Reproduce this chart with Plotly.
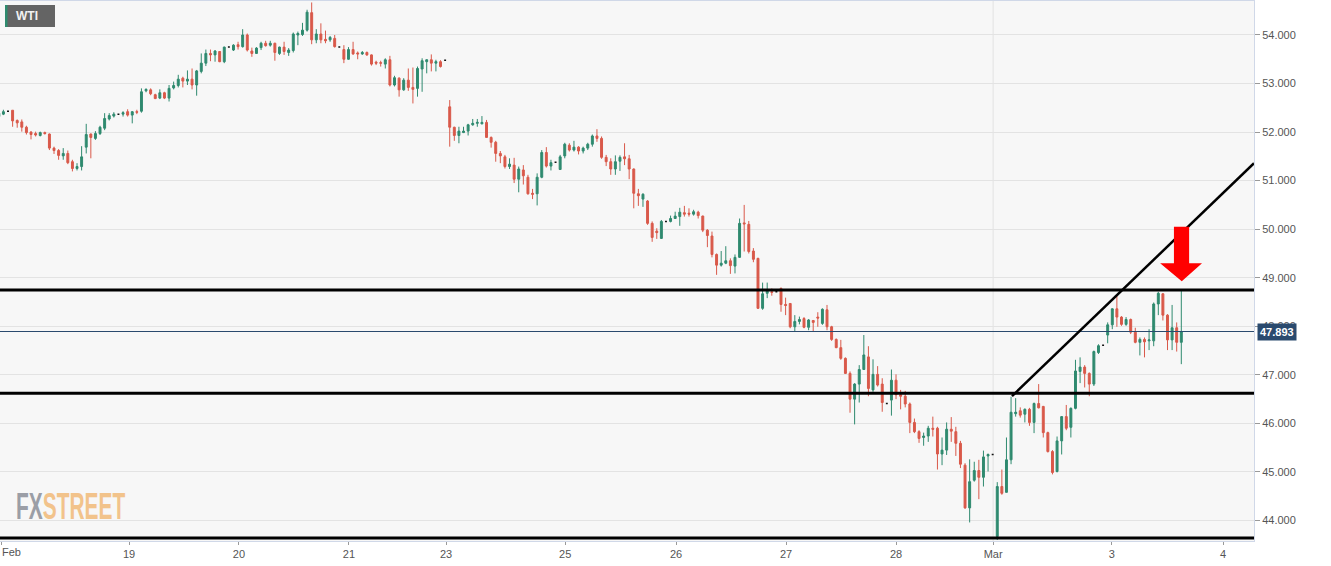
import plotly.graph_objects as go

# ---------------- data (hourly WTI candles) ----------------
open_ = [
    52.32, 52.37, 52.43, 52.45, 52.24, 52.21, 52.10, 52.00, 51.97, 51.93,
    51.99, 51.96, 51.67, 51.62, 51.51, 51.56, 51.39, 51.25, 51.29, 51.69,
    51.96, 51.87, 51.97, 52.08, 52.27, 52.33, 52.37, 52.37, 52.42, 52.35,
    52.42, 52.43, 52.85, 52.87, 52.77, 52.70, 52.81, 52.70, 52.91, 52.96,
    53.11, 53.05, 53.09, 52.97, 53.25, 53.42, 53.62, 53.59, 53.66, 53.45,
    53.75, 53.69, 53.80, 53.76, 54.00, 53.67, 53.62, 53.74, 53.83, 53.79,
    53.83, 53.62, 53.75, 53.64, 53.68, 54.00, 54.01, 54.10, 54.46, 53.90,
    54.02, 53.91, 53.90, 53.93, 53.75, 53.70, 53.50, 53.70, 53.63, 53.61,
    53.64, 53.59, 53.44, 53.43, 53.40, 53.49, 52.97, 53.11, 52.87, 53.07,
    52.92, 52.90, 53.30, 53.45, 53.49, 53.42, 53.45, 53.48,
    52.52, 52.10, 51.93, 51.99, 52.02, 52.15, 52.18, 52.17, 52.20, 51.89,
    51.79, 51.56, 51.49, 51.29, 51.32, 51.03, 51.22, 51.07, 50.74, 50.73,
    51.07, 51.58, 51.30, 51.38, 51.23, 51.51, 51.73, 51.63, 51.69, 51.61,
    51.67, 51.75, 51.92, 51.87, 51.48, 51.39, 51.24, 51.40, 51.49, 51.45,
    51.24, 50.73, 50.62, 50.58, 50.12, 49.96, 49.81, 50.16, 50.16, 50.22,
    50.26, 50.34, 50.33, 50.31, 50.35, 50.27, 49.98, 49.86, 49.48, 49.26,
    49.30, 49.35, 49.24, 49.42, 50.13, 50.10, 49.55, 49.40, 48.37, 48.68,
    48.71, 48.71, 48.78, 48.45, 48.47, 47.99, 48.10, 48.16, 47.98, 48.12,
    48.19, 48.06, 48.34, 47.99, 47.73, 47.56, 47.34, 47.03, 46.50, 46.81,
    47.11, 47.37, 46.69, 47.01, 46.81, 46.41, 46.48, 46.89, 46.59, 46.56,
    46.40, 46.02, 45.83, 45.71, 45.74, 45.90, 45.90, 45.37, 45.45, 45.88,
    45.83, 45.59, 45.14, 44.26, 44.83, 45.03, 44.89, 45.33, 45.36, 43.67,
    44.70, 44.58, 45.25, 46.20, 46.26, 46.19, 46.29, 46.02, 46.41, 46.35,
    45.81, 45.42, 45.01, 45.64, 46.14, 45.92, 46.31, 47.07, 47.16, 47.03,
    46.81, 47.46, 47.61, 47.82, 48.03, 48.36, 48.19, 48.04, 48.14, 47.88,
    47.67, 47.73, 47.70, 47.70, 48.46, 48.67, 48.23, 47.72, 47.97, 47.67,
]
high = [
    52.42, 52.46, 52.43, 52.45, 52.26, 52.26, 52.13, 52.02, 52.01, 52.01,
    52.01, 51.97, 51.70, 51.65, 51.67, 51.62, 51.43, 51.36, 51.71, 52.17,
    51.97, 52.02, 52.13, 52.39, 52.39, 52.41, 52.37, 52.43, 52.47, 52.43,
    52.46, 52.90, 52.90, 52.90, 52.79, 52.88, 52.83, 52.97, 53.04, 53.18,
    53.14, 53.27, 53.31, 53.28, 53.62, 53.70, 53.70, 53.69, 53.67, 53.76,
    53.75, 53.81, 53.86, 54.12, 54.03, 53.74, 53.75, 53.86, 53.88, 53.88,
    53.84, 53.76, 53.86, 53.73, 54.05, 54.07, 54.25, 54.52, 54.67, 54.12,
    54.24, 54.09, 53.98, 54.00, 53.75, 53.79, 53.75, 53.86, 53.66, 53.67,
    53.66, 53.60, 53.47, 53.47, 53.52, 53.57, 53.16, 53.13, 53.11, 53.31,
    53.33, 53.35, 53.52, 53.50, 53.60, 53.49, 53.48, 53.48,
    52.66, 52.11, 52.11, 52.11, 52.17, 52.27, 52.27, 52.33, 52.25, 51.91,
    51.82, 51.61, 51.53, 51.46, 51.47, 51.29, 51.32, 51.12, 50.83, 51.15,
    51.63, 51.69, 51.43, 51.38, 51.53, 51.78, 51.77, 51.82, 51.71, 51.70,
    51.78, 51.95, 52.06, 51.91, 51.53, 51.46, 51.52, 51.52, 51.77, 51.53,
    51.25, 50.83, 50.74, 50.60, 50.16, 50.02, 50.19, 50.16, 50.28, 50.36,
    50.44, 50.48, 50.43, 50.40, 50.38, 50.28, 50.00, 49.95, 49.50, 49.55,
    49.65, 49.40, 49.48, 50.22, 50.50, 50.17, 49.61, 49.41, 48.90, 48.90,
    48.78, 48.71, 48.80, 48.59, 48.47, 48.23, 48.20, 48.19, 48.15, 48.13,
    48.29, 48.37, 48.44, 48.01, 47.75, 47.72, 47.36, 47.07, 46.83, 47.20,
    47.82, 47.59, 47.32, 47.18, 46.93, 46.41, 47.11, 47.01, 46.69, 46.67,
    46.43, 46.10, 45.86, 45.81, 45.95, 46.14, 45.93, 45.71, 46.02, 46.13,
    45.93, 45.64, 45.18, 45.26, 45.21, 45.25, 45.44, 45.38, 45.36, 44.79,
    45.05, 45.71, 46.55, 46.52, 46.33, 46.31, 46.32, 46.43, 46.81, 46.36,
    45.83, 45.45, 45.73, 46.15, 46.38, 46.33, 47.31, 47.36, 47.20, 47.05,
    47.50, 47.63, 47.61, 48.08, 48.37, 48.65, 48.21, 48.19, 48.16, 47.97,
    47.77, 47.77, 47.94, 48.49, 48.71, 48.68, 48.25, 48.44, 48.08, 48.75,
]
low = [
    52.25, 52.35, 52.43, 52.11, 52.09, 52.01, 51.95, 51.85, 51.91, 51.91,
    51.95, 51.63, 51.55, 51.43, 51.43, 51.34, 51.19, 51.21, 51.21, 51.56,
    51.46, 51.84, 51.94, 52.04, 52.24, 52.30, 52.37, 52.32, 52.32, 52.18,
    52.37, 52.40, 52.82, 52.76, 52.68, 52.68, 52.68, 52.63, 52.88, 52.92,
    52.92, 52.97, 52.88, 52.75, 53.21, 53.36, 53.46, 53.45, 53.44, 53.42,
    53.75, 53.67, 53.70, 53.74, 53.66, 53.55, 53.61, 53.69, 53.76, 53.76,
    53.47, 53.59, 53.59, 53.57, 53.64, 53.79, 53.98, 54.07, 53.81, 53.83,
    53.83, 53.83, 53.86, 53.74, 53.75, 53.42, 53.49, 53.59, 53.50, 53.59,
    53.57, 53.37, 53.38, 53.35, 53.31, 52.94, 52.94, 52.73, 52.85, 52.85,
    52.59, 52.73, 52.83, 53.21, 53.25, 53.25, 53.33, 53.48,
    51.70, 51.82, 51.77, 51.98, 51.93, 52.13, 52.11, 52.16, 51.89, 51.68,
    51.39, 51.36, 51.25, 51.24, 50.95, 50.76, 50.92, 50.71, 50.62, 50.49,
    51.05, 51.27, 51.21, 51.38, 51.22, 51.46, 51.60, 51.60, 51.54, 51.56,
    51.63, 51.70, 51.80, 51.45, 51.30, 51.12, 51.12, 51.20, 51.32, 51.03,
    50.43, 50.48, 50.46, 50.09, 49.74, 49.80, 49.80, 50.16, 50.14, 50.21,
    50.07, 50.26, 50.26, 50.28, 50.22, 49.94, 49.63, 49.42, 49.06, 49.23,
    49.28, 49.08, 49.09, 49.41, 49.54, 49.50, 49.32, 48.36, 48.34, 48.58,
    48.63, 48.71, 48.30, 48.23, 47.96, 47.90, 48.04, 47.96, 47.92, 47.89,
    47.99, 48.03, 47.92, 47.70, 47.55, 47.31, 47.02, 46.22, 45.98, 46.43,
    47.10, 46.56, 46.65, 46.76, 46.24, 46.41, 46.16, 46.50, 46.29, 46.33,
    45.80, 45.80, 45.60, 45.54, 45.62, 45.73, 45.05, 45.14, 45.35, 45.62,
    45.33, 45.08, 44.24, 43.96, 44.80, 44.44, 44.70, 45.01, 45.36, 43.60,
    44.53, 44.58, 45.16, 46.14, 46.12, 46.02, 45.95, 45.80, 46.31, 45.71,
    45.40, 44.95, 44.99, 45.36, 45.86, 45.71, 46.29, 46.83, 46.74, 46.56,
    46.77, 47.43, 47.61, 47.65, 47.94, 47.99, 48.01, 48.01, 47.84, 47.65,
    47.40, 47.36, 47.51, 47.59, 48.23, 48.12, 47.51, 47.51, 47.48, 47.22,
]
close = [
    52.39, 52.42, 52.43, 52.23, 52.19, 52.10, 51.99, 51.95, 51.94, 51.99,
    51.97, 51.67, 51.62, 51.52, 51.56, 51.37, 51.25, 51.29, 51.49, 51.95,
    51.89, 51.97, 52.10, 52.28, 52.34, 52.37, 52.37, 52.40, 52.35, 52.42,
    52.41, 52.83, 52.88, 52.79, 52.69, 52.81, 52.70, 52.90, 52.96, 53.09,
    53.05, 53.09, 52.97, 53.26, 53.42, 53.62, 53.59, 53.67, 53.45, 53.75,
    53.75, 53.79, 53.76, 54.00, 53.69, 53.62, 53.73, 53.83, 53.78, 53.83,
    53.64, 53.75, 53.66, 53.69, 54.02, 54.03, 54.10, 54.47, 53.90, 54.02,
    53.90, 53.88, 53.95, 53.76, 53.75, 53.50, 53.70, 53.61, 53.61, 53.64,
    53.59, 53.40, 53.42, 53.42, 53.49, 52.97, 53.12, 52.87, 53.07, 52.92,
    52.88, 53.31, 53.47, 53.49, 53.42, 53.45, 53.35, 53.48,
    52.10, 51.93, 52.02, 52.02, 52.15, 52.18, 52.20, 52.20, 51.89, 51.79,
    51.56, 51.51, 51.29, 51.34, 51.03, 51.24, 51.10, 50.73, 50.72, 51.07,
    51.58, 51.30, 51.37, 51.38, 51.49, 51.75, 51.63, 51.69, 51.61, 51.67,
    51.75, 51.92, 51.87, 51.48, 51.39, 51.24, 51.39, 51.48, 51.45, 51.24,
    50.74, 50.69, 50.72, 50.12, 49.83, 49.93, 50.16, 50.16, 50.22, 50.27,
    50.35, 50.31, 50.31, 50.36, 50.28, 49.98, 49.87, 49.48, 49.26, 49.30,
    49.35, 49.25, 49.42, 50.12, 50.11, 49.54, 49.38, 48.37, 48.67, 48.75,
    48.70, 48.71, 48.45, 48.43, 47.99, 48.10, 48.14, 47.98, 48.13, 48.08,
    48.17, 48.35, 47.99, 47.73, 47.56, 47.34, 47.03, 46.50, 46.81, 47.11,
    47.41, 46.72, 47.01, 46.79, 46.43, 46.41, 46.89, 46.59, 46.56, 46.40,
    46.02, 45.83, 45.69, 45.74, 45.90, 45.88, 45.37, 45.45, 45.88, 45.84,
    45.59, 45.16, 44.26, 44.80, 45.03, 44.89, 45.31, 45.36, 45.36, 44.70,
    44.56, 45.25, 46.23, 46.23, 46.17, 46.29, 46.02, 46.41, 46.32, 45.81,
    45.42, 44.99, 45.64, 46.14, 45.90, 46.31, 47.08, 47.16, 47.03, 46.81,
    47.48, 47.60, 47.61, 48.03, 48.36, 48.19, 48.04, 48.14, 47.88, 47.67,
    47.73, 47.68, 47.72, 48.46, 48.68, 48.23, 47.72, 47.97, 47.67, 47.893,
]

# x-axis day labels and where they fall (in candle-index units)
day_labels = ["", "19", "20", "21", "23", "25", "26", "27", "28", "Mar", "3", "4"]
day_ticks = [0.48, 28.3, 52.2, 76.1, 97.2, 123.1, 147.2, 171.1, 195.0, 216.1, 241.9, 266.1]
first_label = "Feb"
month_break = 216.1

price_ticks = [44, 45, 46, 47, 48, 49, 50, 51, 52, 53, 54]
last_price = 47.893
resistance = 48.75
support = 46.62
floor_level = 43.64
trend_start = (220.2, 46.56)
trend_end = (272.8, 51.36)

x_range = [0.26, 272.8]
y_range = [43.578, 54.70]

GREEN = "#2f8a6f"
RED = "#d9594a"
NAVY = "#2a4a6e"
FONT = "Liberation Sans, Arial"

# ---------------- figure ----------------
idx = list(range(len(close)))
normal = [i for i in idx if high[i] != low[i]]
flat = [i for i in idx if high[i] == low[i]]

fig = go.Figure()
fig.add_trace(go.Candlestick(
    x=normal,
    open=[open_[i] for i in normal], high=[high[i] for i in normal],
    low=[low[i] for i in normal], close=[close[i] for i in normal],
    increasing=dict(line=dict(color=GREEN, width=1), fillcolor=GREEN),
    decreasing=dict(line=dict(color=RED, width=1), fillcolor=RED),
    whiskerwidth=0, showlegend=False, hoverinfo="skip",
))
fig.add_trace(go.Candlestick(
    x=flat,
    open=[open_[i] for i in flat], high=[high[i] for i in flat],
    low=[low[i] for i in flat], close=[close[i] for i in flat],
    increasing=dict(line=dict(color="#111111", width=1.5), fillcolor="#111111"),
    decreasing=dict(line=dict(color="#111111", width=1.5), fillcolor="#111111"),
    whiskerwidth=0, showlegend=False, hoverinfo="skip",
))

shapes = [
    dict(type="line", xref="x", yref="paper", x0=month_break, x1=month_break, y0=0, y1=1,
         line=dict(color="#e2e2e2", width=1), layer="below"),
    dict(type="line", xref="paper", yref="y", x0=0, x1=1, y0=last_price, y1=last_price,
         line=dict(color=NAVY, width=1)),
    dict(type="line", xref="paper", yref="y", x0=0, x1=1, y0=resistance, y1=resistance,
         line=dict(color="#000000", width=3)),
    dict(type="line", xref="paper", yref="y", x0=0, x1=1, y0=support, y1=support,
         line=dict(color="#000000", width=3)),
    dict(type="line", xref="paper", yref="y", x0=0, x1=1, y0=floor_level, y1=floor_level,
         line=dict(color="#000000", width=3)),
    dict(type="line", xref="x", yref="y", x0=trend_start[0], y0=trend_start[1],
         x1=trend_end[0], y1=trend_end[1], line=dict(color="#000000", width=2.5)),
    # red arrow
    dict(type="path", xref="x", yref="y",
         path="M 255.4,50.05 L 258.7,50.05 L 258.7,49.30 L 261.5,49.30 L 257.1,48.93 L 252.4,49.30 L 255.4,49.30 Z",
         fillcolor="#ff0000", line=dict(color="#ff0000", width=0)),
    # WTI badge
    dict(type="rect", xref="paper", yref="paper", x0=0.00399, x1=0.04386, y0=0.95185, y1=0.99259,
         fillcolor="#646464", line=dict(width=0)),
    dict(type="rect", xref="paper", yref="paper", x0=0.00399, x1=0.00598, y0=0.95185, y1=0.99259,
         fillcolor="#2e8b6e", line=dict(width=0)),
]

annotations = [
    dict(xref="paper", yref="paper", x=0.0216, y=0.9715, xanchor="center", yanchor="middle",
         text="<b>WTI</b>", showarrow=False,
         font=dict(color="#f2f2f2", size=12, family=FONT)),
    dict(xref="paper", yref="y", x=1, y=last_price, xanchor="left", yanchor="middle",
         xshift=3, text="<b>47.893</b>", showarrow=False, bgcolor=NAVY,
         font=dict(color="#ffffff", size=11, family=FONT), borderpad=2),
    dict(xref="paper", yref="paper", x=0, y=0, xanchor="left", yanchor="top", yshift=-3,
         text=first_label, showarrow=False,
         font=dict(color="#555555", size=11, family=FONT)),
    dict(xref="paper", yref="paper", x=0.0112, y=0.063, xanchor="left", yanchor="middle",
         text="<span style='color:#9b9ea6'>FX</span><span style='color:#f2c38b'>STREET</span>",
         showarrow=False,
         font=dict(size=37, family=FONT, weight="bold")),
]

fig.update_layout(
    width=1331, height=566,
    margin=dict(l=0, r=77, t=1, b=25),
    paper_bgcolor="#ffffff", plot_bgcolor="#f7f7f7",
    boxgap=0.4,
    font=dict(family=FONT, size=11, color="#555555"),
    shapes=shapes, annotations=annotations,
    xaxis=dict(range=x_range, tickvals=day_ticks, ticktext=day_labels, ticks="outside",
               ticklen=3, tickcolor="#999999", showgrid=False, zeroline=False,
               showline=True, linecolor="#d0d8e8", mirror=True,
               rangeslider=dict(visible=False), fixedrange=True),
    yaxis=dict(range=y_range, side="right", tickvals=price_ticks,
               ticktext=[f"{v:.3f}" for v in price_ticks], ticks="outside", ticklen=5,
               tickcolor="#999999", gridcolor="#e3e3e3", zeroline=False,
               showline=True, linecolor="#d0d8e8", mirror=True, fixedrange=True),
)

# condense the logo word horizontally (the original logo uses a condensed face)
post = """
function fxCondense(){
  document.querySelectorAll('text.annotation-text').forEach(function(t){
    if (t.textContent.indexOf('FXSTREET') >= 0) {
      t.style.transformBox = 'fill-box';
      t.style.transformOrigin = '0% 50%';
      t.style.transform = 'scale(0.565, 1)';
    }
  });
}
fxCondense();
var gdEl = document.getElementById('{plot_id}');
if (gdEl && gdEl.on) { gdEl.on('plotly_afterplot', fxCondense); }
"""

fig.write_html("out.html", post_script=post)
